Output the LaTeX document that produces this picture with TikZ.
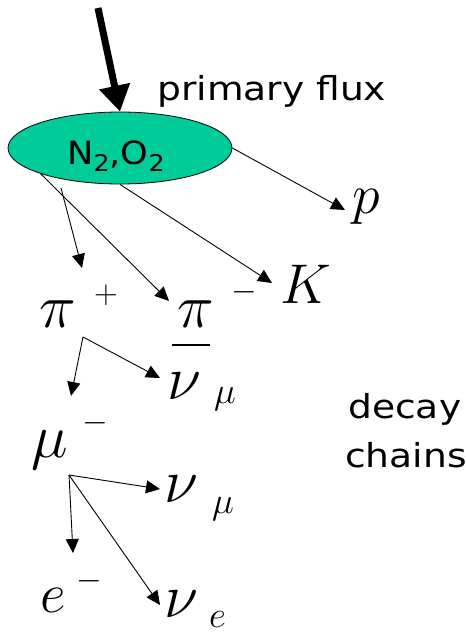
\RequirePackage{fix-cm}
\documentclass[tikz,border=0pt]{standalone}
\usepackage{fontspec}
\setmainfont{Liberation Serif}
\newfontfamily\sansfam{DejaVu Sans}
\usetikzlibrary{arrows.meta,shapes.geometric}
\definecolor{gasgreen}{RGB}{0,204,153}
\begin{document}
\begin{tikzpicture}[x=1pt,y=-1pt,
  thinarrow/.style={draw, line width=0.9pt, -{Triangle[length=14pt,width=13pt]}},
  sym/.style={inner sep=0pt, anchor=base west, font=\fontsize{62}{62}\selectfont},
  lat/.style={inner sep=0pt, anchor=base west, font=\fontsize{56}{56}\selectfont},
  subsym/.style={inner sep=0pt, anchor=base west, font=\fontsize{37}{37}\selectfont},
  supsym/.style={inner sep=0pt, anchor=base, font=\fontsize{33}{33}\selectfont},
  txt/.style={inner sep=0pt, anchor=base west, font=\sansfam\fontsize{33}{33}\selectfont, xscale=1.14}
]
\useasboundingbox (0,0) rectangle (466,633);
% target
\node[ellipse, draw, fill=gasgreen, minimum width=224pt, minimum height=72pt, inner sep=0pt, line width=0.8pt] (el) at (120,148) {};
\node[inner sep=0pt, anchor=base west, font=\sansfam\fontsize{32}{32}\selectfont, xscale=1.1] (gas) at (67,164) {N\raisebox{-0.22em}{\fontsize{23}{23}\selectfont 2},O\raisebox{-0.22em}{\fontsize{23}{23}\selectfont 2}};
% primary
\coordinate (top) at (98,8);
\draw[line width=7pt, -{Triangle[length=26pt,width=30pt]}] (top) -- (el.north);
\node[txt] (pf) at (157,100) {primary flux};
% products
\node[lat] (p) at (352,213) {$p$};
\node[lat] (K) at (280,303) {$K$};
\node[sym] (pip) at (39,327) {$\pi$};
\node[supsym] (pipsup) at (106,303) {$+$};
\node[sym] (pim) at (177,327) {$\pi$};
\node[supsym] (pimsup) at (244,300) {$-$};
\coordinate (ptip) at (345,210);
\coordinate (Ktip) at (272,283);
\coordinate (pimtip) at (169,301);
\coordinate (piptip) at (82,268);
\coordinate (br) at (61,188);
\draw[thinarrow] (el.east) -- (ptip);
\draw[thinarrow] (el.south) -- (Ktip);
\draw[thinarrow] (el.198) -- (pimtip);
\draw[thinarrow] (br) -- (piptip);
% pion decay
\coordinate (pv) at (83,337);
\node[sym] (nmb) at (167,399) {$\nu$};
\node[subsym] (nmbsub) at (214,403) {$\mu$};
\draw[line width=2.5pt] (172,345) -- (210,345);
\node[sym] (mu) at (31,457) {$\mu$};
\node[supsym] (musup) at (95,431) {$-$};
\coordinate (mutip) at (71,396);
\coordinate (nmbtip) at (160,378);
\draw[thinarrow] (pv) -- (mutip);
\draw[thinarrow] (pv) -- (nmbtip);
% muon decay
\coordinate (mv) at (69,475);
\node[sym] (nm) at (164,502) {$\nu$};
\node[subsym] (nmsub) at (212,513) {$\mu$};
\node[lat] (e) at (40,612) {$e$};
\node[supsym] (esup) at (89,589) {$-$};
\node[sym] (ne) at (164,617) {$\nu$};
\node[subsym] (nesub) at (209,627) {$e$};
\coordinate (etip) at (73,553);
\coordinate (nmtip) at (160,489);
\coordinate (netip) at (160,605);
\draw[thinarrow] (mv) -- (etip);
\draw[thinarrow] (mv) -- (nmtip);
\draw[thinarrow] (mv) -- (netip);
% label
\node[txt] (dc1) at (348,418) {decay};
\node[txt] (dc2) at (345,467) {chains};
\end{tikzpicture}
\end{document}
